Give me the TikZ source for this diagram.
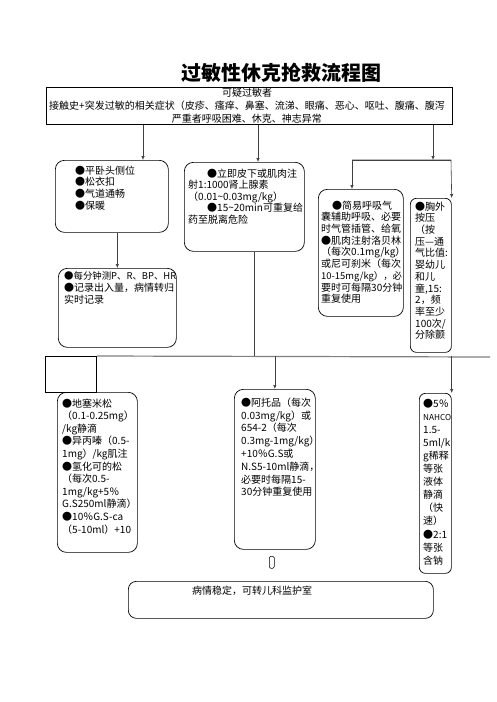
\documentclass[tikz,border=0pt]{standalone}
\usepackage{fontspec}
\setmainfont{Noto Sans CJK SC}
\usetikzlibrary{arrows.meta}
\tikzset{
  box/.style={draw, rounded corners=9pt, line width=0.7pt, anchor=north west, inner sep=0pt},
  sqbox/.style={draw, line width=0.8pt, anchor=north west, inner sep=0pt},
  txt/.style={anchor=north west, align=left, inner sep=0pt},
  arr/.style={-{Latex[length=4pt,width=3.4pt]}, line width=0.6pt, black!75},
  ln/.style={line width=0.6pt, black!75},
  bar/.style={line width=1.2pt, black!50},
}
\newcommand{\tsize}[1]{\fontsize{10}{#1}\selectfont}

\begin{document}
\begin{tikzpicture}[x=1pt,y=-1pt]
\useasboundingbox (0,0) rectangle (496,702);
% title
\node[font=\fontsize{20}{24}\selectfont\bfseries] (title) at (281,73) {过敏性休克抢救流程图};
% top box
\node[sqbox, line width=1pt, minimum width=406pt, minimum height=37pt] (top) at (46,87) {};
\node[align=center, inner sep=0pt, anchor=north, font=\tsize{13}] (ttop) at (247,87.5)
  {可疑过敏者\\接触史+突发过敏的相关症状（皮疹、瘙痒、鼻塞、流涕、眼痛、恶心、呕吐、腹痛、腹泻\\严重者呼吸困难、休克、神志异常};

% first row
\node[box, minimum width=113pt, minimum height=72pt] (b1) at (55,160) {};
\node[txt, font=\tsize{11.7}] (t1) at (75,165.5) {●平卧头侧位\\●松衣扣\\●气道通畅\\●保暖};
\node[box, minimum width=120pt, minimum height=89pt] (b2) at (184,162) {};
\node[txt, font=\tsize{11.5}] (t2) at (188,168.5)
  {\hspace*{1.9em}●立即皮下或肌肉注\\射1:1000肾上腺素\\（0.01\textasciitilde0.03mg/kg）\\\hspace*{1.9em}●15\textasciitilde20min可重复给\\药至脱离危险};
\node[box, minimum width=85pt, minimum height=127pt] (b3) at (318,189) {};
\node[txt, font=\tsize{11.7}] (t3) at (321,200.5)
  {\hspace*{1.1em}●简易呼吸气\\囊辅助呼吸、必要\\时气管插管、给氧\\●肌肉注射洛贝林\\（每次0.1mg/kg）\\或尼可刹米（每次\\{\fontsize{9.4}{11.7}\selectfont 10-15mg/kg），必}\\要时可每隔30分钟\\重复使用};
\node[box, rounded corners=6pt, minimum width=41pt, minimum height=154pt] (b8) at (410,198) {};
\node[txt, font=\tsize{11.7}] (t8) at (415,201.5)
  {●胸外\\按压\\（按\\压—通\\气比值:\\婴幼儿\\和儿\\童,15:\\2，频\\率至少\\100次/\\分除颤};
\node[box, minimum width=118pt, minimum height=79pt] (b4) at (58,268) {};
\node[txt, font=\tsize{12}] (t4) at (64,271.5)
  {{\fontsize{9.4}{12}\selectfont ●每分钟测P、R、BP、HR}\\●记录出入量，病情转归\\实时记录};

% second row
\node[sqbox, minimum width=51pt, minimum height=36pt] (hdr) at (45,356) {};
\node[box, minimum width=80pt, minimum height=160pt] (b5) at (57,392) {};
\node[txt, font=\tsize{12.6}] (t5) at (62,398.5)
  {●地塞米松\\（0.1-0.25mg）\\/kg静滴\\●异丙嗪（0.5-\\1mg）/kg肌注\\●氢化可的松\\（每次0.5-\\1mg/kg+5％\\G.S250ml静滴）\\●10％G.S-ca\\（5-10ml）+10};
\node[box, minimum width=81pt, minimum height=160pt] (b6) at (234,389) {};
\node[txt, font=\tsize{12.8}] (t6) at (241,397.5)
  {●阿托品（每次\\0.03mg/kg）或\\654-2（每次\\0.3mg-1mg/kg）\\+10％G.S或\\N.S5-10ml静滴，\\必要时每隔15-\\30分钟重复使用};
\node[box, rounded corners=6pt, minimum width=32pt, minimum height=180pt] (b7) at (419,393) {};
\node[txt, font=\tsize{13.1}] (t7) at (423,398.5)
  {●5％\\{\fontsize{8.2}{13.1}\selectfont NAHCO}\\1.5-\\5ml/k\\g稀释\\等张\\液体\\静滴\\（快\\速）\\●2:1\\等张\\含钠};
\node[draw, rounded corners=1.5pt, line width=0.5pt, anchor=north west, inner sep=0pt, minimum width=5pt, minimum height=12pt] (gap) at (269,556) {};
\node[box, rounded corners=8pt, minimum width=305pt, minimum height=37pt] (end) at (128,581) {};
\node[anchor=west, inner sep=0pt, font=\tsize{12}] (tend) at (192,591) {病情稳定，可转儿科监护室};

% connectors
\coordinate (x1) at (143,0);
\coordinate (x2) at (258,0);
\coordinate (x3) at (433,0);
\coordinate (x4) at (254,0);
\coordinate (brk) at (352,160);
\coordinate (brkr) at (451,160);
\coordinate (barend) at (490,357);
\draw[arr] (top.south -| x1) -- (b1.north -| x1);
\draw[arr] (top.south -| x2) -- (b2.north -| x2);
\draw[arr] (top.south -| x3) -- (brk -| x3);
\draw[arr] (brkr) -- (brk) -- (b3.north -| brk);
\draw[arr] (brk) -- (brkr) -- (b8.north east);
\draw[arr] (b1.south -| b4.north) -- (b4.north);
\draw[ln] (b2.south -| x4) -- (hdr.north east -| x4);
\draw[bar] (hdr.north east) -- (barend);
\draw[arr] (hdr.north east -| b6.north) -- (b6.north);
\draw[arr] (hdr.north east -| b7.north east) -- (b7.north east);
\end{tikzpicture}
\end{document}
